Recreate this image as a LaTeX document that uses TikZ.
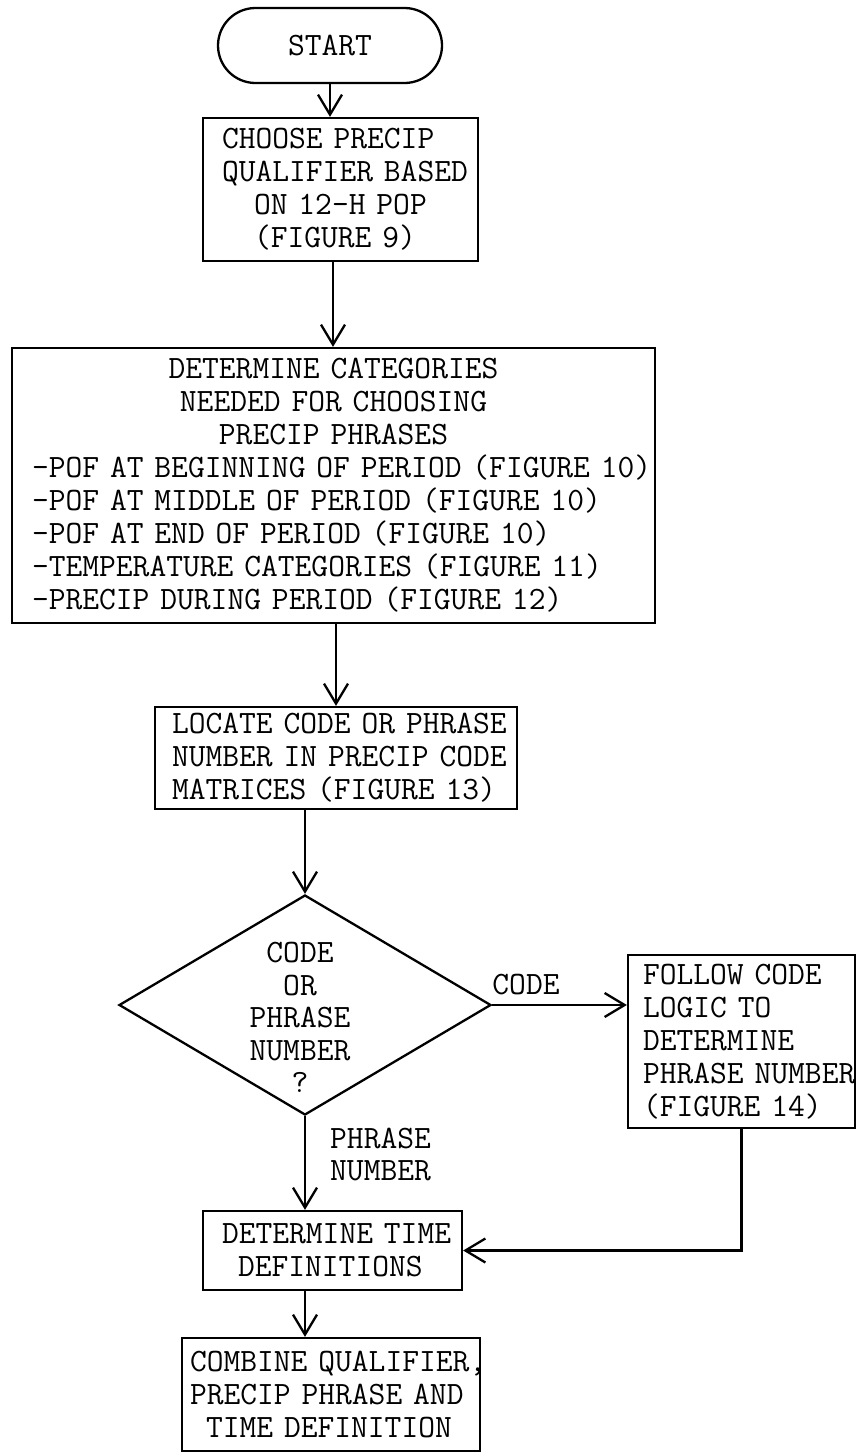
\documentclass[tikz,border=0pt]{standalone}
\usetikzlibrary{shapes.geometric,arrows.meta,calc}
\begin{document}
\begin{tikzpicture}[x=1pt,y=-1pt,
  every node/.style={font=\ttfamily\fontsize{32.6}{33}\selectfont, inner sep=0pt},
  box/.style={draw, line width=2.3pt, inner ysep=0pt, align=left},
  arr/.style={line width=2.3pt, -{Straight Barb[length=20pt,width=24pt]}}]
\useasboundingbox (0,0) rectangle (866,1454);

% terminal
\node[box, align=center, rounded corners=37.5pt, minimum width=224pt, minimum height=75pt] (start) at (330,45.5) {START};

% process boxes
\node[box, minimum width=275pt, minimum height=143pt, inner xsep=19pt, text width=237pt] (choose) at (340.5,189.5)
  {\mbox{CHOOSE PRECIP}\\\mbox{QUALIFIER BASED}\\\hspace*{32pt}\mbox{ON 12-H POP}\\\hspace*{32pt}\mbox{(FIGURE 9)}};

\node[box, minimum width=643pt, minimum height=275pt, inner xsep=20pt, text width=603pt] (cats) at (333.5,485.5)
  {\makebox[603pt][c]{DETERMINE CATEGORIES}\\
   \makebox[603pt][c]{NEEDED FOR CHOOSING}\\
   \makebox[603pt][c]{PRECIP PHRASES}\\
   \mbox{-POF AT BEGINNING OF PERIOD (FIGURE 10)}\\
   \mbox{-POF AT MIDDLE OF PERIOD (FIGURE 10)}\\
   \mbox{-POF AT END OF PERIOD (FIGURE 10)}\\
   \mbox{-TEMPERATURE CATEGORIES (FIGURE 11)}\\
   \mbox{-PRECIP DURING PERIOD (FIGURE 12)}};

\node[box, minimum width=362pt, minimum height=102pt, inner xsep=17pt, text width=328pt] (locate) at (336,758)
  {\mbox{LOCATE CODE OR PHRASE}\\\mbox{NUMBER IN PRECIP CODE}\\\mbox{MATRICES (FIGURE 13)}};

% decision
\node[draw, diamond, line width=2.3pt, minimum width=372pt, minimum height=220pt] (dec) at (305,1005) {};
\node[align=center, font=\ttfamily\fontsize{32.6}{32.5}\selectfont] (dectext) at (300,1017.5)
  {CODE\\OR\\PHRASE\\NUMBER\\?};

\node[box, minimum width=227pt, minimum height=173pt, inner xsep=15pt, text width=197pt] (follow) at (741.5,1041.5)
  {\mbox{FOLLOW CODE}\\\mbox{LOGIC TO}\\\mbox{DETERMINE}\\\mbox{PHRASE NUMBER}\\\mbox{(FIGURE 14)}};

\node[box, minimum width=259pt, minimum height=79pt, inner xsep=19pt, text width=221pt] (tdef) at (332.5,1250.5)
  {\mbox{DETERMINE TIME}\\\hspace*{16pt}\mbox{DEFINITIONS}};

\node[box, minimum width=298pt, minimum height=113pt, inner xsep=8pt, text width=282pt] (comb) at (331,1394.5)
  {\mbox{COMBINE QUALIFIER,}\\\mbox{PRECIP PHRASE AND}\\\hspace*{16pt}\mbox{TIME DEFINITION}};

% branch labels
\node (codelbl) at (526,985) {CODE};
\node[align=left, anchor=west, font=\ttfamily\fontsize{32.6}{32}\selectfont] (phrlbl) at (330,1154) {PHRASE\\NUMBER};

% connectors
\draw[arr] (start.south) -- (start.south |- choose.north);
\draw[arr] ($(choose.south)+(-7.5,0)$) -- ($(choose.south |- cats.north)+(-7.5,0)$);
\draw[arr] (locate.north |- cats.south) -- (locate.north);
\draw[arr] (dec.north |- locate.south) -- (dec.north);
\draw[arr] (dec.east) -- (dec.east -| follow.west);
\draw[arr] (dec.south) -- (dec.south |- tdef.north);
\draw[arr] (follow.south) -- (follow.south |- tdef.east) -- (tdef.east);
\draw[arr] (dec.south |- tdef.south) -- (dec.south |- comb.north);
\end{tikzpicture}
\end{document}
